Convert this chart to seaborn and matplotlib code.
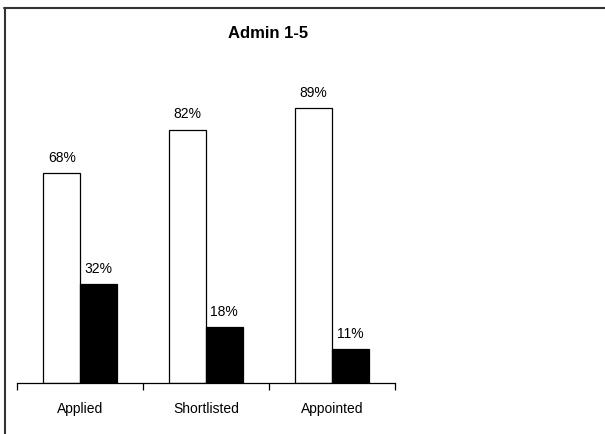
## Admin 1-5 grouped bar chart

## Imports
import pandas as pd
import seaborn as sns
import matplotlib.pyplot as plt
from matplotlib.lines import Line2D

## Data
stages = ['Applied', 'Shortlisted', 'Appointed']
group_a = [68, 82, 89]
group_b = [32, 18, 11]
groups = ['Female', 'Male']

df = pd.DataFrame({
    'stage': stages * 2,
    'pct': group_a + group_b,
    'group': [groups[0]] * 3 + [groups[1]] * 3,
})

sns.set_style('white')
plt.rcParams['font.family'] = ['Liberation Sans', 'DejaVu Sans']
plt.rcParams['text.color'] = 'black'
plt.rcParams['xtick.color'] = 'black'
plt.rcParams['xtick.labelcolor'] = 'black'

fig = plt.figure(figsize=(6.05, 4.34), dpi=100)
ax = fig.add_axes([17 / 605, 51 / 434, 378 / 605, 309 / 434])

sns.barplot(data=df, x='stage', y='pct', hue='group', ax=ax,
            palette=['white', 'black'], edgecolor='black', linewidth=0.9,
            width=0.58, gap=0, legend=False)

for cont in ax.containers:
    ax.bar_label(cont, labels=[f'{v:.0f}%' for v in cont.datavalues],
                 padding=6, fontsize=10, color='black')

ax.set_ylim(0, 100)
ax.set_xlim(-0.5, 2.5)
ax.set_xlabel('')
ax.set_ylabel('')
ax.set_yticks([])
for s in ['left', 'right', 'top']:
    ax.spines[s].set_visible(False)
ax.spines['bottom'].set_color('black')
ax.spines['bottom'].set_linewidth(0.9)

## Excel-like ticks between categories
ax.set_xticks([0, 1, 2])
ax.set_xticklabels(stages, fontsize=10, color='black')
ax.set_xticks([-0.5, 0.5, 1.5, 2.5], minor=True)
ax.tick_params(axis='x', which='major', length=0, pad=14)
ax.tick_params(axis='x', which='minor', length=5, width=0.9, color='black',
               bottom=True, direction='out')

fig.text(268 / 605, 1 - 33 / 434, 'Admin 1-5', ha='center', va='center',
         fontsize=12, fontweight='bold', color='black')

## chart area border (cropped)
fig.add_artist(Line2D([4 / 605, 1], [1 - 7.5 / 434, 1 - 7.5 / 434],
                      transform=fig.transFigure, color='#333333', lw=1.5))
fig.add_artist(Line2D([4.5 / 605, 4.5 / 605], [0, 1 - 7.5 / 434],
                      transform=fig.transFigure, color='#333333', lw=1.5))

fig.savefig('out.png', dpi=100)
